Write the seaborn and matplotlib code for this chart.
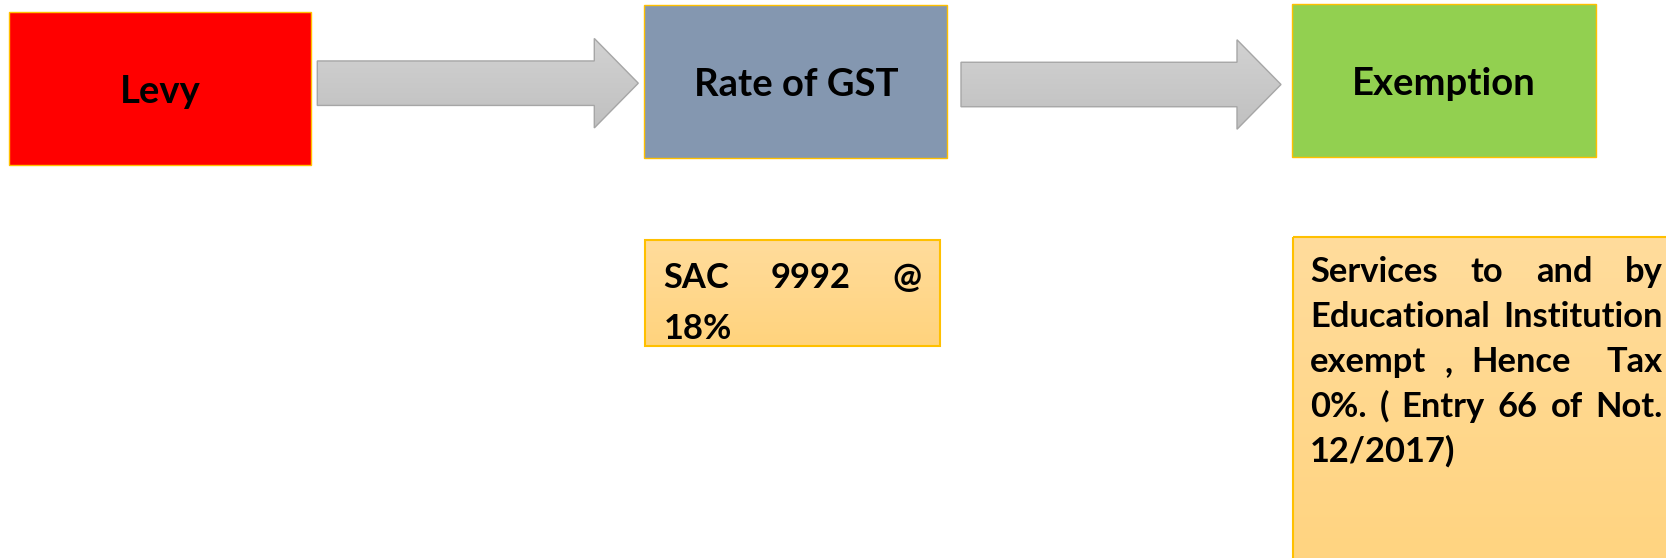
import numpy as np
import matplotlib
matplotlib.use("Agg")
import matplotlib.pyplot as plt
from matplotlib.patches import Rectangle, FancyArrow
from matplotlib.colors import LinearSegmentedColormap
import seaborn as sns

# stage boxes across the top
stage_labels = ["Levy", "Rate of GST", "Exemption"]
stage_colors = ["#FF0000", "#8497B0", "#92D050"]

# notes under the stages, line breaks as on the slide
note_lines = [
    ["SAC 9992 @", "18%"],
    ["Services to and by", "Educational Institution", "exempt , Hence  Tax",
     "0%. ( Entry 66 of Not.", "12/2017)"],
]

# layout, in pixels of the 1666x558 picture
W, H = 1666, 558
box_x = [9.3, 644.5, 1292.3]
box_y = [12.3, 5.3, 4.0]
box_w = [302.0, 302.7, 303.4]
box_h = [152.4, 152.7, 152.7]

arrow_x = [(317.3, 638.3), (961.0, 1281.0)]
arrow_y = [83.2, 84.5]
shaft_w = 44.5
head_w = 89.5
head_l = 44.0

note_box = [(645.3, 239.7, 295.0, 106.3), (1292.7, 237.3, 420.0, 360.0)]
note_x0 = [663.3, 1310.0]
note_x1 = [922.0, 1663.0]
note_base = [287.5, 282.0]
note_step = [51.6, 45.0]

edge_gold = "#FFC000"
font = ["Lato", "DejaVu Sans"]
title_size = 27.5
note_size = 24.8

sns.set_theme(style="white")
plt.rcParams["font.family"] = font

fig = plt.figure(figsize=(W / 100, H / 100), dpi=100)
ax = fig.add_axes([0, 0, 1, 1])


def grad_fill(patch, top, bottom, x0, x1, y0, y1, z):
    patch.set_facecolor("none")
    patch.set_zorder(z + 0.5)
    ax.add_patch(patch)
    cmap = LinearSegmentedColormap.from_list("g", [top, bottom])
    im = ax.imshow(np.linspace(0, 1, 256).reshape(-1, 1), cmap=cmap,
                   extent=(x0, x1, y1, y0), aspect="auto", origin="upper",
                   zorder=z, interpolation="bilinear")
    im.set_clip_path(patch)


# stage boxes
for i in range(len(stage_labels)):
    ax.add_patch(Rectangle((box_x[i], box_y[i]), box_w[i], box_h[i],
                           facecolor=stage_colors[i], edgecolor=edge_gold,
                           linewidth=1.0, zorder=2))
    cx = box_x[i] + box_w[i] / 2
    cy = box_y[i] + box_h[i] / 2
    ax.text(cx, cy + 14.5, stage_labels[i], ha="center", va="baseline",
            fontsize=title_size, fontweight="bold", color="black", zorder=4)

# block arrows between the stages
for (xa, xb), ya in zip(arrow_x, arrow_y):
    arr = FancyArrow(xa, ya, xb - xa, 0, width=shaft_w, head_width=head_w,
                     head_length=head_l, length_includes_head=True,
                     edgecolor="#A6A6A6", linewidth=1.0)
    grad_fill(arr, "#D2D2D2", "#C0C0C0", xa, xb, ya - head_w / 2,
              ya + head_w / 2, 2)

# note boxes
for (bx, by, bw, bh) in note_box:
    rect = Rectangle((bx, by), bw, bh, edgecolor=edge_gold, linewidth=1.5)
    grad_fill(rect, "#FFDC9C", "#FFD37D", bx, bx + bw, by, by + bh, 2)

renderer = fig.canvas.get_renderer()


def justified(x0, x1, y, line, last):
    if last:
        ax.text(x0, y, line, ha="left", va="baseline", fontsize=note_size,
                fontweight="bold", color="black", zorder=5)
        return
    words = line.split(" ")
    texts = []
    widths = []
    for w in words:
        t = ax.text(x0, y, w, ha="left", va="baseline", fontsize=note_size,
                    fontweight="bold", color="black", zorder=5)
        texts.append(t)
        widths.append(t.get_window_extent(renderer).width if w else 0.0)
    gap = (x1 - x0 - sum(widths)) / max(len(words) - 1, 1)
    x = x0
    for t, wd in zip(texts, widths):
        t.set_x(x)
        x += wd + gap


for k, lines in enumerate(note_lines):
    for j, line in enumerate(lines):
        justified(note_x0[k], note_x1[k], note_base[k] + j * note_step[k],
                  line, j == len(lines) - 1)

ax.set_xlim(0, W)
ax.set_ylim(H, 0)
ax.axis("off")

fig.savefig("out.png", dpi=100, facecolor="white")
